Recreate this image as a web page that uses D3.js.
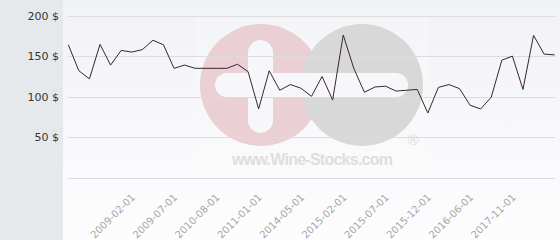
<!doctype html>
<html>
<head>
<meta charset="utf-8"/>
<script src="https://d3js.org/d3.v7.min.js"></script>
<style>
body{margin:0;background:#fff;}
svg{display:block;font-family:"DejaVu Sans",sans-serif;}
</style>
</head>
<body>
<script>
var width=560, height=240;

// price per point (one point per listed date)
var prices=[164,132,122,164.5,139,157,155,158,169.5,164,135,139,135,135,135,135,140,131,85,132,108,115,110.5,100.5,125,96,176,135,105.5,112,113,107,108,109,80,111.5,115,110,89.5,85,99.5,145,150,109,175.5,152.5,151.5];
var tickIndex=[6,10,14,18,22,26,30,34,38,42];
var tickLabels=["2009-02-01","2009-07-01","2010-08-01","2011-01-01","2014-05-01","2015-02-01","2015-07-01","2015-12-01","2016-06-01","2017-11-01"];
var yTicks=[0,50,100,150,200];

var svg=d3.select("body").append("svg").attr("width",width).attr("height",height);

var grad=svg.append("defs").append("linearGradient").attr("id","bg").attr("x1",0).attr("y1",0).attr("x2",0).attr("y2",1);
grad.append("stop").attr("offset","0%").attr("stop-color","#f1f2f6");
grad.append("stop").attr("offset","100%").attr("stop-color","#fdfdfe");

svg.append("rect").attr("width",width).attr("height",height).attr("fill","#e6e9ec");
svg.append("rect").attr("x",63).attr("y",0).attr("width",width-63).attr("height",height).attr("fill","url(#bg)");

var x=d3.scalePoint().domain(d3.range(prices.length)).range([68.3,554.7]);
var y=d3.scaleLinear().domain([0,200]).range([178,15.5]);

// watermark
var wm=svg.append("g");
wm.append("rect").attr("x",196).attr("y",18).attr("width",232).attr("height",157).attr("fill","#fff").attr("opacity",0.2);
wm.append("circle").attr("cx",261).attr("cy",85).attr("r",61).attr("fill","#eacfd5");
wm.append("circle").attr("cx",362).attr("cy",85).attr("r",61).attr("fill","#d8d8d9");
wm.append("rect").attr("x",248).attr("y",40).attr("width",25).attr("height",93).attr("rx",12.5).attr("fill","#f7f7f9");
wm.append("rect").attr("x",215).attr("y",73).attr("width",193).attr("height",24).attr("rx",12).attr("fill","#f7f7f9");
wm.append("text").attr("x",232).attr("y",165).attr("textLength",161)
  .style("font-family","'Liberation Sans',Arial,sans-serif").style("font-weight","bold").style("font-size","16px")
  .attr("fill","#dedede").text("www.Wine-Stocks.com");
wm.append("text").attr("x",413).attr("y",145).attr("text-anchor","middle")
  .style("font-family","'Liberation Sans',Arial,sans-serif").style("font-size","15px")
  .attr("fill","#dcdcdc").text("®");

// grid
svg.append("g").selectAll("line").data(yTicks).enter().append("line")
  .attr("x1",68).attr("x2",555)
  .attr("y1",function(d){return Math.round(y(d))+0.5;})
  .attr("y2",function(d){return Math.round(y(d))+0.5;})
  .attr("stroke","#dcdcdf").attr("stroke-width",1);

// y labels
svg.append("g").selectAll("text").data(yTicks.filter(function(d){return d>0;})).enter().append("text")
  .attr("x",59).attr("y",function(d){return y(d)+4;})
  .attr("text-anchor","end").style("font-size","11px").attr("fill","#333")
  .text(function(d){return d+" $";});

// x labels
svg.append("g").selectAll("text").data(tickIndex).enter().append("text")
  .attr("transform",function(d){return "translate("+(x(d)+4)+",198) rotate(-45)";})
  .attr("text-anchor","end").style("font-size","10px").attr("fill","#a6a6a6")
  .text(function(d,i){return tickLabels[i];});

// line
var line=d3.line().x(function(d,i){return x(i);}).y(function(d){return y(d);});
svg.append("path").datum(prices).attr("d",line).attr("fill","none")
  .attr("stroke","#3a2430").attr("stroke-width",1);
</script>
</body>
</html>
